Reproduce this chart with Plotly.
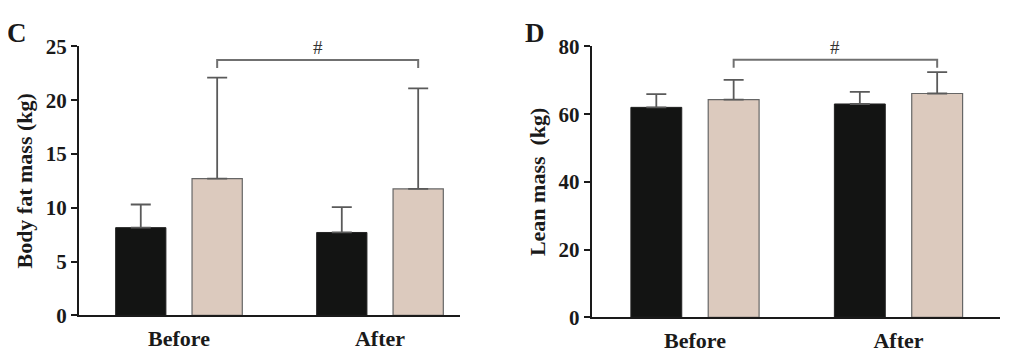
import plotly.graph_objects as go

# ---- data ----
categories = ["Before", "After"]

fat_black = [8.15, 7.7]
fat_black_err = [2.15, 2.35]
fat_beige = [12.7, 11.75]
fat_beige_err = [9.4, 9.35]

lean_black = [62.0, 63.0]
lean_black_err = [3.9, 3.6]
lean_beige = [64.3, 66.1]
lean_beige_err = [5.8, 6.3]

fat_ticks = [0, 5, 10, 15, 20, 25]
lean_ticks = [0, 20, 40, 60, 80]

fat_bracket = [23.75, 23.0]   # bracket level, end level
lean_bracket = [76.1, 73.7]

# ---- style ----
BLACK = "#131413"
BEIGE = "#dccabe"
EDGE = "#666666"
ERR = "#5a5a5a"
FONT = "Liberation Serif"
W = 0.25
OFF_B = -0.315
OFF_G = 0.065

fig = go.Figure()

def add_panel(xa, ya, vb, eb, vg, eg):
    fig.add_trace(go.Bar(
        x=categories, y=vb, xaxis=xa, yaxis=ya, width=W, offset=OFF_B,
        marker=dict(color=BLACK, line=dict(color="#222222", width=1)),
        error_y=dict(type="data", symmetric=False, array=eb, arrayminus=[0, 0],
                     color=ERR, thickness=1.8, width=10),
        showlegend=False))
    fig.add_trace(go.Bar(
        x=categories, y=vg, xaxis=xa, yaxis=ya, width=W, offset=OFF_G,
        marker=dict(color=BEIGE, line=dict(color=EDGE, width=1.2)),
        error_y=dict(type="data", symmetric=False, array=eg, arrayminus=[0, 0],
                     color=ERR, thickness=1.8, width=10),
        showlegend=False))

add_panel("x", "y", fat_black, fat_black_err, fat_beige, fat_beige_err)
add_panel("x2", "y2", lean_black, lean_black_err, lean_beige, lean_beige_err)

def bracket(xr, yr, levels):
    xl = OFF_G + W / 2
    xr_ = 1 + OFF_G + W / 2
    fig.add_shape(type="path",
                  path=f"M {xl},{levels[1]} L {xl},{levels[0]} L {xr_},{levels[0]} L {xr_},{levels[1]}",
                  xref=xr, yref=yr, line=dict(color="#707070", width=2))
    fig.add_annotation(x=(xl + xr_) / 2, y=levels[0], xref=xr, yref=yr, text="#",
                       showarrow=False, yanchor="bottom", yshift=0,
                       font=dict(family=FONT, size=19, color="#333333"))

bracket("x", "y", fat_bracket)
bracket("x2", "y2", lean_bracket)

xcommon = dict(type="category", showline=True, linecolor="#1a1a1a", linewidth=2,
               ticks="", showgrid=False, zeroline=False,
               tickfont=dict(family=FONT, size=22, color="#1a1a1a", weight="bold"),
               ticklabelstandoff=2, fixedrange=True)
ycommon = dict(showline=True, linecolor="#1a1a1a", linewidth=2, ticks="outside",
               ticklen=6, tickwidth=2, tickcolor="#1a1a1a", showgrid=False, zeroline=False,
               tickfont=dict(family=FONT, size=21, color="#1a1a1a", weight="bold"))

fig.update_layout(
    width=1024, height=363,
    margin=dict(l=0, r=0, t=0, b=0),
    paper_bgcolor="white", plot_bgcolor="white",
    xaxis=dict(xcommon, domain=[0.0693, 0.4414], range=[-0.4975, 1.398], anchor="y"),
    yaxis=dict(ycommon, domain=[0.1290, 0.9220], range=[0, 25], tickvals=fat_ticks,
               anchor="x",
               title=dict(text="Body fat mass (kg)", standoff=7,
                          font=dict(family=FONT, size=22, color="#1a1a1a", weight="bold"))),
    xaxis2=dict(xcommon, domain=[0.5700, 0.9688], range=[-0.5076, 1.499], anchor="y2"),
    yaxis2=dict(ycommon, domain=[0.1232, 0.9220], range=[0, 80], tickvals=lean_ticks,
                anchor="x2",
                title=dict(text="Lean mass\u00a0\u00a0(kg)", standoff=7,
                           font=dict(family=FONT, size=22, color="#1a1a1a", weight="bold"))),
)

fig.add_annotation(x=0.0088, y=0.962, xref="paper", yref="paper", text="C", showarrow=False,
                   xanchor="center", yanchor="middle",
                   font=dict(family=FONT, size=27, color="#1a1a1a", weight="bold"))
fig.add_annotation(x=0.5146, y=0.962, xref="paper", yref="paper", text="D", showarrow=False,
                   xanchor="center", yanchor="middle",
                   font=dict(family=FONT, size=27, color="#1a1a1a", weight="bold"))

fig.write_html("out.html")
